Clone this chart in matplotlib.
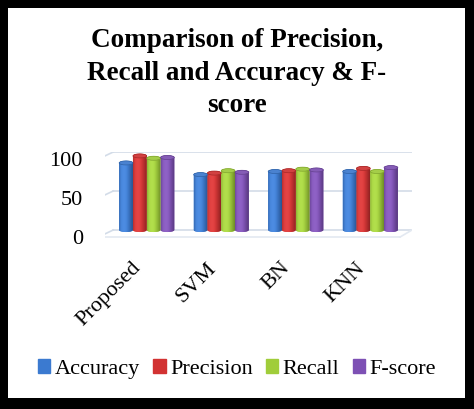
import numpy as np
import matplotlib.pyplot as plt
from matplotlib.patches import Rectangle, Ellipse, PathPatch
from matplotlib.path import Path
from matplotlib.colors import to_rgb
from matplotlib.transforms import ScaledTranslation

categories = ['Proposed', 'SVM', 'BN', 'KNN']
series = ['Accuracy', 'Precision', 'Recall', 'F-score']
accuracy = [86, 71, 75, 75]
precision = [95, 73, 76, 79]
recall = [92, 76, 78, 75]
fscore = [93, 74, 77, 80]
yticks = [0, 50, 100]

colors = ['#3b7ad0', '#d23232', '#a0cd3a', '#7d50b4']
values = [accuracy, precision, recall, fscore]

plt.rcParams['font.family'] = ['Liberation Serif', 'DejaVu Serif']

fig = plt.figure(figsize=(4.74, 4.09), dpi=100)
fig.patch.set_facecolor('black')
# white inner panel inside the black frame
fig.patches.append(Rectangle((8 / 474, 11 / 409), 457 / 474, 390 / 409,
                             transform=fig.transFigure, facecolor='white',
                             edgecolor='none', zorder=-5))

fig.text(0.5, 1 - 73 / 409, 'Comparison of Precision,\nRecall and Accuracy & F-\nscore',
         ha='center', va='center', fontsize=19.5, fontweight='bold', linespacing=1.38)

# 0 at y=230px, 100 at y=152px, ylim starts a bit below 0 for the floor
ax = fig.add_axes([105 / 474, (409 - 237.8) / 409, 307 / 474, 85.8 / 409])
ax.set_facecolor('none')

x = np.arange(len(categories))
w = 0.185
hh = 2.6  # half height of the cylinder caps (data units)


def shade(c):
    # soft horizontal gradient -> cylinder look
    base = np.array(to_rgb(c))
    t = np.linspace(0, 1, 64)
    hl = np.exp(-((t - 0.35) / 0.3) ** 2) * 0.07
    dk = 1 - 0.32 * np.clip((t - 0.5) / 0.5, 0, 1) ** 1.5 - 0.15 * np.clip((0.15 - t) / 0.15, 0, 1)
    img = np.clip(base[None, :] * dk[:, None] + hl[:, None], 0, 1)
    return img[None, :, :]


def cylinder(x0, bw, top):
    cx = x0 + bw / 2
    t1 = np.linspace(np.pi, 2 * np.pi, 20)
    t2 = np.linspace(0, np.pi, 20)
    pts = [(x0, top), (x0, 0)]
    pts += [(cx + bw / 2 * np.cos(a), hh * np.sin(a)) for a in t1]
    pts += [(x0 + bw, top)]
    pts += [(cx + bw / 2 * np.cos(a), top + hh * np.sin(a)) for a in t2]
    pts += [(x0, top)]
    return Path(pts, closed=True)


for i, (vals, c, name) in enumerate(zip(values, colors, series)):
    bars = ax.bar(x + (i - 1.5) * w, vals, w, color=c, label=name, zorder=2)
    for b in bars:
        bx, bw, bh = b.get_x(), b.get_width(), b.get_height()
        b.set_visible(False)
        body = PathPatch(cylinder(bx, bw, bh), facecolor=c, edgecolor='none', zorder=3)
        ax.add_patch(body)
        im = ax.imshow(shade(c), extent=[bx, bx + bw, -hh, bh + hh], aspect='auto',
                       zorder=3.5, interpolation='bilinear')
        im.set_clip_path(body)
        cap = np.array(to_rgb(c)) * 0.9 + 0.08
        ax.add_patch(Ellipse((bx + bw / 2, bh), bw, 2 * hh, facecolor=cap,
                             edgecolor=np.array(to_rgb(c)) * 0.8, linewidth=0.5, zorder=4))

# back wall gridlines with a short slanted side wall and a floor edge
grid_c = '#d3dce8'
for v in yticks:
    ax.plot([-0.45, 3.56], [v, v], color=grid_c, lw=1.2, zorder=1)
    ax.plot([-0.56, -0.45], [v - 5, v], color=grid_c, lw=1.2, zorder=1)
ax.plot([-0.56, 3.40], [-9, -9], color='#e3e9f1', lw=1.2, zorder=1)
ax.plot([3.40, 3.56], [-9, 0], color='#e3e9f1', lw=1.2, zorder=1)

ax.set_xlim(-0.56, 3.56)
ax.set_ylim(-10, 100)
ax.set_yticks(yticks)
ax.set_xticks(x)
ax.set_xticklabels(categories, rotation=45, ha='right', va='top',
                   rotation_mode='anchor', fontsize=16)
ax.tick_params(axis='y', labelsize=16, length=0, pad=16)
ax.tick_params(axis='x', length=0, pad=15)
for lab in ax.get_yticklabels():
    lab.set_transform(lab.get_transform() + ScaledTranslation(0, -0.07, fig.dpi_scale_trans))
for lab in ax.get_xticklabels():
    lab.set_transform(lab.get_transform() + ScaledTranslation(-0.15, 0, fig.dpi_scale_trans))
for s in ax.spines.values():
    s.set_visible(False)

handles = [Rectangle((0, 0), 1, 1, color=c) for c in colors]
fig.legend(handles, series, loc='center', bbox_to_anchor=(0.5, (409 - 369) / 409),
           ncol=4, frameon=False, fontsize=16, handlelength=0.55, handleheight=0.55,
           handletextpad=0.2, columnspacing=0.6)

fig.savefig('out.png', dpi=100, facecolor=fig.get_facecolor())
